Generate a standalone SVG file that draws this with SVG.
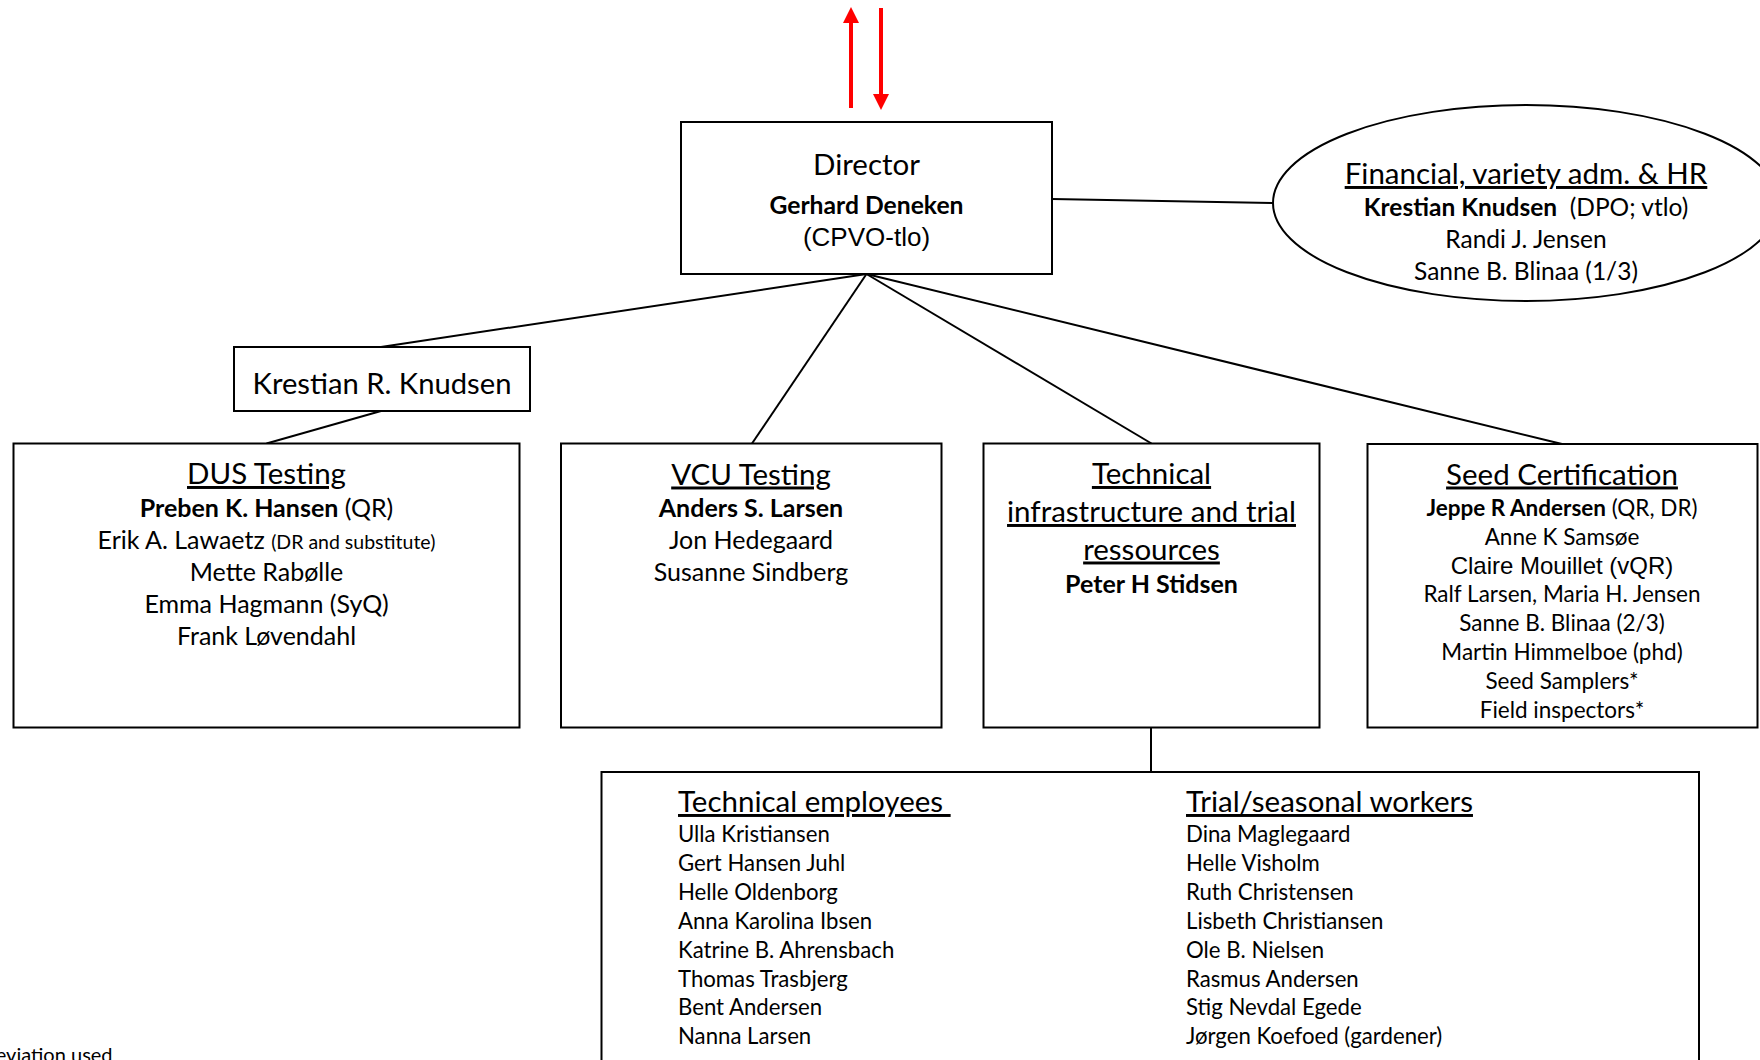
<svg xmlns="http://www.w3.org/2000/svg" width="1760" height="1060" viewBox="0 0 1760 1060">
<style>
.box{fill:#fff;stroke:#000;stroke-width:2}
.con{stroke:#000;stroke-width:2;fill:none}
.red{stroke:#ff0000;stroke-width:4;fill:none}
.t{font-family:Lato,"Open Sans",sans-serif;fill:#000}
.c{text-anchor:middle}
.ttl{font-size:29.5px;text-decoration:underline}
.nm{font-size:25px}
.sm{font-size:22.5px}
.el{font-size:24.5px}
.ls{font-size:22.2px}
.b{font-weight:bold}
.ar{font-family:"Liberation Sans",Arial,sans-serif}
</style>
<defs>
<marker id="ah" viewBox="0 0 16 16" refX="0" refY="8" markerWidth="16" markerHeight="16" orient="auto" markerUnits="userSpaceOnUse">
<path d="M0,0 L16,8 L0,16 z" fill="#ff0000"/>
</marker>
</defs>
<rect width="1760" height="1060" fill="#fff"/>
<g id="connectors">
<line class="con" x1="866.5" y1="274" x2="381" y2="347"/>
<line class="con" x1="381" y1="411" x2="266.5" y2="443.5"/>
<line class="con" x1="866.5" y1="274" x2="752" y2="443.5"/>
<line class="con" x1="866.5" y1="274" x2="1151.5" y2="443.5"/>
<line class="con" x1="866.5" y1="274" x2="1562" y2="444"/>
<line class="con" x1="1052" y1="199" x2="1273" y2="203"/>
<line class="con" x1="1151" y1="727.5" x2="1151" y2="772"/>
<line class="red" x1="851" y1="108" x2="851" y2="23" marker-end="url(#ah)"/>
<line class="red" x1="881" y1="8" x2="881" y2="94" marker-end="url(#ah)"/>
</g>
<g id="director">
<rect class="box" x="681" y="122" width="371" height="152"/>
<text class="t c" x="866.5" y="175" font-size="29.5">Director</text>
<text class="t c b" x="866.5" y="213.5" font-size="24.7">Gerhard Deneken</text>
<text class="ar c" x="866.5" y="246" font-size="26">(CPVO-tlo)</text>
</g>
<g id="financial">
<ellipse class="box" cx="1526" cy="203" rx="253" ry="98"/>
<text class="t c ttl" x="1526" y="184">Financial, variety adm. &amp; HR</text>
<text class="t c el" x="1526" y="216" style="white-space:pre"><tspan class="b">Krestian Knudsen</tspan>  (DPO; vtlo)</text>
<text class="t c el" x="1526" y="248">Randi J. Jensen</text>
<text class="t c el" x="1526" y="280">Sanne B. Blinaa (1/3)</text>
</g>
<g id="krestian">
<rect class="box" x="234" y="347" width="296" height="64"/>
<text class="t c" x="382" y="394" font-size="29.2">Krestian R. Knudsen</text>
</g>
<g id="dus">
<rect class="box" x="13.5" y="443.5" width="506" height="284"/>
<text class="t c ttl" x="266.5" y="484">DUS Testing</text>
<text class="t c nm" x="266.5" y="516.5"><tspan class="b">Preben K. Hansen</tspan> (QR)</text>
<text class="t c nm" x="266.5" y="548.5">Erik A. Lawaetz <tspan font-size="19.5">(DR and substitute)</tspan></text>
<text class="t c nm" x="266.5" y="580.5">Mette Rabølle</text>
<text class="t c nm" x="266.5" y="612.5">Emma Hagmann (SyQ)</text>
<text class="t c nm" x="266.5" y="644.5">Frank Løvendahl</text>
</g>
<g id="vcu">
<rect class="box" x="561" y="443.5" width="380.5" height="284"/>
<text class="t c ttl" x="751" y="484.5">VCU Testing</text>
<text class="t c nm b" x="751" y="516.5">Anders S. Larsen</text>
<text class="t c nm" x="751" y="548.5">Jon Hedegaard</text>
<text class="t c nm" x="751" y="580.5">Susanne Sindberg</text>
</g>
<g id="technical">
<rect class="box" x="983.5" y="443.5" width="336" height="284"/>
<text class="t c ttl" x="1151.5" y="484">Technical</text>
<text class="t c ttl" x="1151.5" y="522">infrastructure and trial</text>
<text class="t c ttl" x="1151.5" y="559.5">ressources</text>
<text class="t c nm b" x="1151.5" y="593">Peter H Stidsen</text>
</g>
<g id="seed">
<rect class="box" x="1367.5" y="444" width="390" height="283.5"/>
<text class="t c ttl" x="1562" y="484.5">Seed Certification</text>
<text class="t c sm" x="1562" y="515.5"><tspan class="b">Jeppe R Andersen</tspan> (QR, DR)</text>
<text class="t c sm" x="1562" y="544.5">Anne K Samsøe</text>
<text class="ar c" x="1562" y="573.5" font-size="24">Claire Mouillet (vQR)</text>
<text class="t c sm" x="1562" y="602">Ralf Larsen, Maria H. Jensen</text>
<text class="t c sm" x="1562" y="631">Sanne B. Blinaa (2/3)</text>
<text class="t c sm" x="1562" y="660">Martin Himmelboe (phd)</text>
<text class="t c sm" x="1562" y="688.5">Seed Samplers*</text>
<text class="t c sm" x="1562" y="717.5">Field inspectors*</text>
</g>
<g id="staff">
<rect class="box" x="601.5" y="772" width="1097.5" height="310"/>
<text class="t ttl" x="678" y="812" style="white-space:pre">Technical employees </text>
<text class="t ls" x="678" y="842">Ulla Kristiansen</text>
<text class="t ls" x="678" y="871">Gert Hansen Juhl</text>
<text class="t ls" x="678" y="900">Helle Oldenborg</text>
<text class="t ls" x="678" y="929">Anna Karolina Ibsen</text>
<text class="t ls" x="678" y="958">Katrine B. Ahrensbach</text>
<text class="t ls" x="678" y="987">Thomas Trasbjerg</text>
<text class="t ls" x="678" y="1015">Bent Andersen</text>
<text class="t ls" x="678" y="1044">Nanna Larsen</text>
<text class="t ttl" x="1186" y="812">Trial/seasonal workers</text>
<text class="t ls" x="1186" y="842">Dina Maglegaard</text>
<text class="t ls" x="1186" y="871">Helle Visholm</text>
<text class="t ls" x="1186" y="900">Ruth Christensen</text>
<text class="t ls" x="1186" y="929">Lisbeth Christiansen</text>
<text class="t ls" x="1186" y="958">Ole B. Nielsen</text>
<text class="t ls" x="1186" y="987">Rasmus Andersen</text>
<text class="t ls" x="1186" y="1015">Stig Nevdal Egede</text>
<text class="t ls" x="1186" y="1044">Jørgen Koefoed (gardener)</text>
</g>
<text class="t" x="-47" y="1062" font-size="20">Abbreviation used</text>
</svg>
